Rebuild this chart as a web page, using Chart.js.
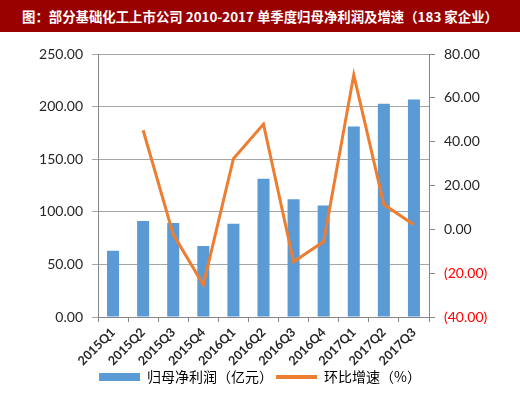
<!DOCTYPE html>
<html><head><meta charset="utf-8">
<script src="https://cdn.jsdelivr.net/npm/chart.js@4/dist/chart.umd.min.js"></script>
<style>
html,body{margin:0;padding:0;background:#fff;}
#wrap{position:relative;width:520px;height:394px;}
#title{position:absolute;left:0;top:0;width:520px;height:32px;background:#990000;color:#fff;
font:bold 13.4px "Noto Sans CJK SC","DejaVu Sans",sans-serif;line-height:32px;padding-left:22px;box-sizing:border-box;white-space:nowrap;}
#c{position:absolute;left:0;top:0;}
</style></head>
<body><div id="wrap"><canvas id="c" width="520" height="394"></canvas><div id="title">图：部分基础化工上市公司 2010-2017 单季度归母净利润及增速（183 家企业）</div></div>
<script>
const categories = ['2015Q1','2015Q2','2015Q3','2015Q4','2016Q1','2016Q2','2016Q3','2016Q4','2017Q1','2017Q2','2017Q3'];
const profit = [63, 91.3, 89.4, 67.5, 88.7, 131.4, 112, 106, 181, 202.6, 206.8];
const growth = [null, 45.2, -2.3, -25.3, 32.2, 48, -14.8, -5.6, 70.5, 11.3, 2.1];
const leftTicks = [0, 50, 100, 150, 200, 250];
const rightTicks = [-40, -20, 0, 20, 40, 60, 80];
const seriesNames = ['归母净利润（亿元）', '环比增速（%）'];

const axisGray = '#868686';
const tickFont = {family: 'Lato, "Liberation Sans", sans-serif', size: 14};
new Chart(document.getElementById('c'), {
  data: {
    labels: categories,
    datasets: [
      {type: 'line', label: seriesNames[1], data: growth, yAxisID: 'y1', borderColor: '#ED7D31', backgroundColor: '#ED7D31',
       borderWidth: 3, pointRadius: 0, tension: 0, order: 0},
      {type: 'bar', label: seriesNames[0], data: profit, yAxisID: 'y', backgroundColor: '#5B9BD5',
       barPercentage: 0.4, categoryPercentage: 1, order: 1}
    ]
  },
  options: {
    responsive: false, animation: false,
    layout: {padding: {top: 54, left: 0, right: 0, bottom: 0}},
    plugins: {
      tooltip: {enabled: false},
      legend: {
        position: 'bottom',
        reverse: true,
        labels: {
          usePointStyle: true, pointStyleWidth: 41, boxHeight: 8, padding: 3,
          color: '#404040',
          font: {family: '"Noto Sans CJK SC", sans-serif', size: 14},
          generateLabels(chart) {
            return chart.data.datasets.map((ds, i) => ({
              text: ds.label, fillStyle: ds.backgroundColor, strokeStyle: ds.borderColor || ds.backgroundColor,
              lineWidth: ds.type === 'line' ? 4 : 0, pointStyle: ds.type === 'line' ? 'line' : 'rect',
              datasetIndex: i, hidden: false
            }));
          }
        }
      }
    },
    scales: {
      x: {
        offset: true,
        grid: {offset: true, drawOnChartArea: false, color: axisGray, tickLength: 5},
        border: {color: axisGray},
        ticks: {maxRotation: 45, minRotation: 45, color: '#262626', font: {family: 'Lato, sans-serif', size: 12.5, weight: 'bold'}, padding: 3},
        afterFit(s) { s.height = 50; }
      },
      y: {
        position: 'left', min: 0, max: 250,
        afterBuildTicks(s) { s.ticks = leftTicks.map(v => ({value: v})); },
        grid: {color: '#a6a6a6', tickLength: 6},
        border: {color: axisGray},
        ticks: {color: '#262626', font: tickFont, padding: 9, callback: v => v.toFixed(2)},
        afterFit(s) { s.width = 98; }
      },
      y1: {
        position: 'right', min: -40, max: 80,
        afterBuildTicks(s) { s.ticks = rightTicks.map(v => ({value: v})); },
        grid: {drawOnChartArea: false, color: axisGray, tickLength: 6},
        border: {color: axisGray},
        ticks: {font: tickFont, padding: 9,
          color: c => c.tick && c.tick.value < 0 ? '#FF0000' : '#262626',
          callback: v => v < 0 ? '(' + Math.abs(v).toFixed(2) + ')' : v.toFixed(2)},
        afterFit(s) { s.width = 91; }
      }
    }
  }
});
</script></body></html>
